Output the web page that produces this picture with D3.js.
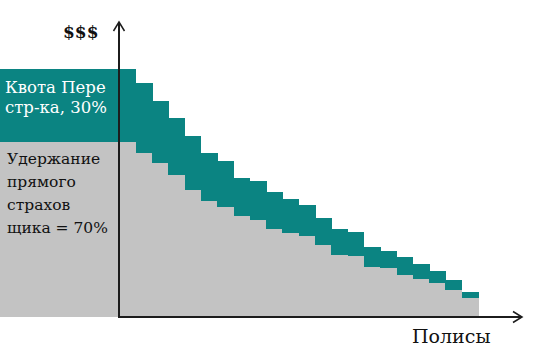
<!DOCTYPE html>
<html>
<head>
<meta charset="utf-8">
<script src="https://cdn.jsdelivr.net/npm/d3@7"></script>
<style>
  body { margin: 0; background: #fff; }
  svg { display: block; }
</style>
</head>
<body>
<div id="chart"></div>
<script>
// Policies sorted by size of loss, one column each
const policies = ["1","2","3","4","5","6","7","8","9","10","11",
    "12","13","14","15","16","17","18","19","20","21","22"];
// Full loss per policy (top of the teal step)
const totalLoss = [99.1, 93.7, 86.4, 79.7, 72.4, 65.6, 62.4, 55.8, 54.4, 49.9, 47.1,
    45.0, 39.8, 35.3, 33.9, 27.9, 26.5, 24.1, 21.2, 18.5, 14.8, 10.2];
// Part kept by the direct insurer (top of the gray step)
const retained = [70.1, 65.7, 61.7, 56.8, 51.0, 46.6, 44.0, 40.4, 39.0, 35.4, 33.5,
    32.4, 28.8, 24.8, 24.4, 20.1, 19.5, 16.8, 15.1, 13.5, 11.0, 7.6];

const quotaLabel = ["Квота Пере", "стр-ка, 30%"];
const retainLabel = ["Удержание", "прямого", "страхов", "щика = 70%"];
const yLabel = "$$$";
const xLabel = "Полисы";

//----------------------------------------
// SVG setup
let width = 540,
    height = 361;

let svg = d3.select('#chart').append('svg')
    .attr('width', width)
    .attr('height', height);

const teal = '#0b8482',
      gray = '#c3c3c3',
      axisColor = '#1c1c1c';

//----------------------------------------
// Scales
let x = d3.scaleBand()
    .domain(policies)
    .range([119.5, 478])
    .padding(0);

let y = d3.scaleLinear()
    .domain([0, 100])
    .range([317, 67]);

let x0 = 119;

//----------------------------------------
// Left panel: the split of the first policy carried to the edge
svg.append('rect')
    .attr('x', 0).attr('width', x.range()[0])
    .attr('y', y(totalLoss[0]))
    .attr('height', y(retained[0]) - y(totalLoss[0]))
    .attr('fill', teal)
    .attr('shape-rendering', 'crispEdges');
svg.append('rect')
    .attr('x', 0).attr('width', x.range()[0])
    .attr('y', y(retained[0]))
    .attr('height', y(0) - y(retained[0]))
    .attr('fill', gray)
    .attr('shape-rendering', 'crispEdges');

//----------------------------------------
// Steps
let cols = svg.selectAll('g.col')
    .data(policies)
    .enter()
    .append('g')
    .attr('class', 'col');

cols.append('rect')
    .attr('x', d => x(d))
    .attr('width', x.bandwidth() + 0.5)
    .attr('y', (d, i) => y(totalLoss[i]))
    .attr('height', (d, i) => y(retained[i]) - y(totalLoss[i]))
    .attr('fill', teal)
    .attr('shape-rendering', 'crispEdges');

cols.append('rect')
    .attr('x', d => x(d))
    .attr('width', x.bandwidth() + 0.5)
    .attr('y', (d, i) => y(retained[i]))
    .attr('height', (d, i) => y(0) - y(retained[i]))
    .attr('fill', gray)
    .attr('shape-rendering', 'crispEdges');

//----------------------------------------
// Axes with open arrow heads
svg.append('line')
    .attr('x1', x0).attr('x2', x0)
    .attr('y1', y(0) + 1).attr('y2', 22)
    .attr('stroke', axisColor).attr('stroke-width', 2);
svg.append('polyline')
    .attr('points', [[x0 - 5.5, 31], [x0, 22], [x0 + 5.5, 31]].join(' '))
    .attr('fill', 'none').attr('stroke', axisColor).attr('stroke-width', 1.5);

svg.append('line')
    .attr('x1', x0 - 1).attr('x2', 522)
    .attr('y1', y(0)).attr('y2', y(0))
    .attr('stroke', axisColor).attr('stroke-width', 2);
svg.append('polyline')
    .attr('points', [[513, y(0) - 5.5], [522, y(0)], [513, y(0) + 5.5]].join(' '))
    .attr('fill', 'none').attr('stroke', axisColor).attr('stroke-width', 1.5);

//----------------------------------------
// Texts
const font = '"DejaVu Serif", "Liberation Serif", serif';

svg.append('text')
    .attr('x', 63).attr('y', 38)
    .attr('font-family', font).attr('font-size', 17).attr('font-weight', 'bold')
    .attr('fill', '#111')
    .text(yLabel);

svg.append('text')
    .attr('x', 412).attr('y', 343)
    .attr('font-family', font).attr('font-size', 19)
    .attr('fill', '#111')
    .text(xLabel);

svg.selectAll('text.quota')
    .data(quotaLabel)
    .enter()
    .append('text')
    .attr('class', 'quota')
    .attr('x', 5)
    .attr('y', (d, i) => 93 + i * 20)
    .attr('font-family', font).attr('font-size', 16.5)
    .attr('fill', '#fff')
    .text(d => d);

svg.selectAll('text.retain')
    .data(retainLabel)
    .enter()
    .append('text')
    .attr('class', 'retain')
    .attr('x', 7)
    .attr('y', (d, i) => 164 + i * 23)
    .attr('font-family', font).attr('font-size', 15.5)
    .attr('fill', '#111')
    .text(d => d);
</script>
</body>
</html>
